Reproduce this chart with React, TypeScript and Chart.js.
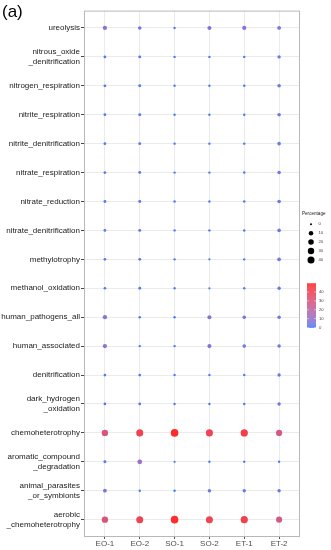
import { useEffect, useRef } from "react";
import { Chart, registerables } from "chart.js";

Chart.register(...registerables);

const samples = ["EO-1", "EO-2", "SO-1", "SO-2", "ET-1", "ET-2"];
const functions = [
  "ureolysis",
  "nitrous_oxide\n_denitrification",
  "nitrogen_respiration",
  "nitrite_respiration",
  "nitrite_denitrification",
  "nitrate_respiration",
  "nitrate_reduction",
  "nitrate_denitrification",
  "methylotrophy",
  "methanol_oxidation",
  "human_pathogens_all",
  "human_associated",
  "denitrification",
  "dark_hydrogen\n_oxidation",
  "chemoheterotrophy",
  "aromatic_compound\n_degradation",
  "animal_parasites\n_or_symbionts",
  "aerobic\n_chemoheterotrophy",
];

// Percentage values per sample, in the order of `functions`
const EO1 = [8, 1, 1, 1, 1, 1, 1.2, 1, 0.8, 0.8, 8.5, 8.5, 0.8, 0.8, 30, 1.5, 5, 30];
const EO2 = [3.5, 1.2, 1.3, 1.3, 1.3, 1.3, 1.5, 1.3, 1, 1, 0.3, 0.3, 1, 1, 40, 12, 0.3, 40];
const SO1 = [0.2, 0.2, 0.2, 0.2, 0.2, 0.2, 0.3, 0.2, 0.2, 0.2, 0.3, 0.3, 0.2, 0.2, 49.8, 0.1, 0.3, 49.2];
const SO2 = [7, 0.2, 0.2, 0.2, 0.2, 0.2, 0.2, 0.2, 0.1, 0.1, 7, 7, 0.2, 0.2, 40, 0.2, 3.5, 40];
const ET1 = [8, 0.3, 0.3, 0.3, 0.3, 0.3, 0.4, 0.3, 0.2, 0.2, 4, 4, 0.3, 0.3, 43, 0.2, 3, 42];
const ET2 = [5, 3, 4, 4, 4, 4, 4.2, 4, 4.5, 3, 3.5, 3.5, 3, 3, 28, 0.2, 3, 27];
const sampleValues = [EO1, EO2, SO1, SO2, ET1, ET2];

const sizeBreaks = [0, 10, 20, 30, 40];
const colorBreaks = [0, 10, 20, 30, 40];

const LOW = "#3F7DF8";
const HIGH = "#FF2A2A";
const FONT = "'Liberation Sans', Arial, sans-serif";

function hexToRgb(h: string) {
  const n = parseInt(h.slice(1), 16);
  return [(n >> 16) & 255, (n >> 8) & 255, n & 255];
}
function toLin(c: number) {
  c /= 255;
  return c <= 0.04045 ? c / 12.92 : Math.pow((c + 0.055) / 1.055, 2.4);
}
function fromLin(c: number) {
  const v = c <= 0.0031308 ? 12.92 * c : 1.055 * Math.pow(c, 1 / 2.4) - 0.055;
  return Math.round(Math.max(0, Math.min(1, v)) * 255);
}
function rgbToLab(rgb: number[]) {
  const R = toLin(rgb[0]), G = toLin(rgb[1]), B = toLin(rgb[2]);
  const X = (0.4124 * R + 0.3576 * G + 0.1805 * B) / 0.95047;
  const Y = 0.2126 * R + 0.7152 * G + 0.0722 * B;
  const Z = (0.0193 * R + 0.1192 * G + 0.9505 * B) / 1.08883;
  const f = (t: number) => (t > 0.008856 ? Math.cbrt(t) : 7.787 * t + 16 / 116);
  const fx = f(X), fy = f(Y), fz = f(Z);
  return [116 * fy - 16, 500 * (fx - fy), 200 * (fy - fz)];
}
function labToRgb(lab: number[]) {
  const fy = (lab[0] + 16) / 116;
  const fx = fy + lab[1] / 500;
  const fz = fy - lab[2] / 200;
  const inv = (t: number) => (t * t * t > 0.008856 ? t * t * t : (t - 16 / 116) / 7.787);
  const X = inv(fx) * 0.95047, Y = inv(fy), Z = inv(fz) * 1.08883;
  const R = 3.2406 * X - 1.5372 * Y - 0.4986 * Z;
  const G = -0.9689 * X + 1.8758 * Y + 0.0415 * Z;
  const B = 0.0557 * X - 0.204 * Y + 1.057 * Z;
  return `rgb(${fromLin(R)},${fromLin(G)},${fromLin(B)})`;
}
const labLow = rgbToLab(hexToRgb(LOW));
const labHigh = rgbToLab(hexToRgb(HIGH));

const allValues = sampleValues.flat();
const vMax = Math.max(...allValues);

function colorFor(v: number) {
  const t = Math.max(0, Math.min(1, v / vMax));
  return labToRgb([0, 1, 2].map((i) => labLow[i] + (labHigh[i] - labLow[i]) * t));
}
function radiusFor(v: number) {
  return 1.0 + 2.8 * Math.sqrt(Math.max(0, v) / vMax);
}

const decor = {
  id: "decor",
  afterDraw(chart: any) {
    const { ctx, chartArea: a } = chart;
    ctx.save();
    ctx.strokeStyle = "#b8b8b8";
    ctx.lineWidth = 1;
    ctx.strokeRect(a.left + 0.5, a.top + 0.5, a.right - a.left - 1, a.bottom - a.top - 1);

    // panel tag
    ctx.fillStyle = "#000";
    ctx.font = `17px ${FONT}`;
    ctx.textAlign = "left";
    ctx.textBaseline = "alphabetic";
    ctx.fillText("(a)", 2, 16.5);

    // size legend
    ctx.fillStyle = "#222";
    ctx.font = `4.6px ${FONT}`;
    ctx.textBaseline = "middle";
    ctx.fillText("Percentage", 302, 214);
    sizeBreaks.forEach((b, i) => {
      const y = 224.3 + i * 8.9;
      ctx.fillStyle = "#000";
      ctx.beginPath();
      ctx.arc(311, y, radiusFor(b), 0, Math.PI * 2);
      ctx.fill();
      ctx.fillStyle = "#444";
      ctx.font = `4.2px ${FONT}`;
      ctx.fillText(String(b), 318.5, y);
    });

    // colour bar
    const barX = 307, barW = 9, barBottom = 327.5, pxPer = 0.8875;
    const barTop = barBottom - vMax * pxPer;
    const steps = Math.ceil(barBottom - barTop);
    for (let s = 0; s < steps; s++) {
      const y0 = barTop + s;
      const h = Math.min(1, barBottom - y0);
      const v = vMax * (1 - (s + 0.5) / steps);
      ctx.fillStyle = colorFor(v);
      ctx.fillRect(barX, y0, barW, h + 0.3);
    }
    colorBreaks.forEach((b) => {
      const y = barBottom - b * pxPer;
      ctx.strokeStyle = "#fff";
      ctx.lineWidth = 0.5;
      ctx.beginPath();
      ctx.moveTo(barX, y); ctx.lineTo(barX + 1.8, y);
      ctx.moveTo(barX + barW - 1.8, y); ctx.lineTo(barX + barW, y);
      ctx.stroke();
      ctx.fillStyle = "#444";
      ctx.font = `4.2px ${FONT}`;
      ctx.fillText(String(b), 319, y);
    });
    ctx.restore();
  },
};

export default function App() {
  const ref = useRef<HTMLCanvasElement>(null);
  useEffect(() => {
    if (!ref.current) return;
    const points: any[] = [];
    functions.forEach((_, fi) => {
      samples.forEach((_, si) => {
        points.push({ x: si, y: fi, v: sampleValues[si][fi] });
      });
    });
    const chart = new Chart(ref.current, {
      type: "scatter",
      data: {
        datasets: [
          {
            data: points,
            pointRadius: (c: any) => radiusFor(c.raw ? c.raw.v : 0),
            pointBackgroundColor: (c: any) => colorFor(c.raw ? c.raw.v : 0),
            pointBorderWidth: 0,
            pointHoverRadius: (c: any) => radiusFor(c.raw ? c.raw.v : 0),
          } as any,
        ],
      },
      plugins: [decor],
      options: {
        animation: false,
        responsive: false,
        devicePixelRatio: 1,
        events: [],
        layout: { padding: { left: 0, top: 3, right: 31, bottom: 0 } },
        plugins: { legend: { display: false }, tooltip: { enabled: false } },
        scales: {
          x: {
            type: "linear",
            min: -0.6,
            max: samples.length - 1 + 0.6,
            afterBuildTicks: (s: any) => {
              s.ticks = samples.map((_, i) => ({ value: i }));
            },
            afterFit: (s: any) => {
              s.height = 13;
            },
            grid: { color: "#ebebeb", lineWidth: 1, tickColor: "#555", tickLength: 2 },
            border: { display: false },
            ticks: {
              autoSkip: false,
              maxRotation: 0,
              padding: 0,
              color: "#4d4d4d",
              font: { family: FONT, size: 8 },
              callback: (v: any) => samples[Math.round(v)] ?? "",
            },
          },
          y: {
            type: "linear",
            reverse: true,
            min: -0.6,
            max: functions.length - 1 + 0.6,
            afterBuildTicks: (s: any) => {
              s.ticks = functions.map((_, i) => ({ value: i }));
            },
            afterFit: (s: any) => {
              s.width = 84;
            },
            grid: { color: "#ebebeb", lineWidth: 1, tickColor: "#444", tickLength: 3 },
            border: { display: false },
            ticks: {
              autoSkip: false,
              padding: 1,
              color: "#1a1a1a",
              font: { family: FONT, size: 8, lineHeight: 1.2 },
              callback: (v: any) => {
                const f = functions[Math.round(v)];
                return f ? f.split("\n") : "";
              },
            },
          },
        },
      },
    } as any);
    return () => chart.destroy();
  }, []);
  return (
    <div style={{ position: "absolute", left: 0, top: 0, width: 331, height: 550 }}>
      <canvas ref={ref} width={331} height={550} style={{ width: 331, height: 550 }} />
    </div>
  );
}
